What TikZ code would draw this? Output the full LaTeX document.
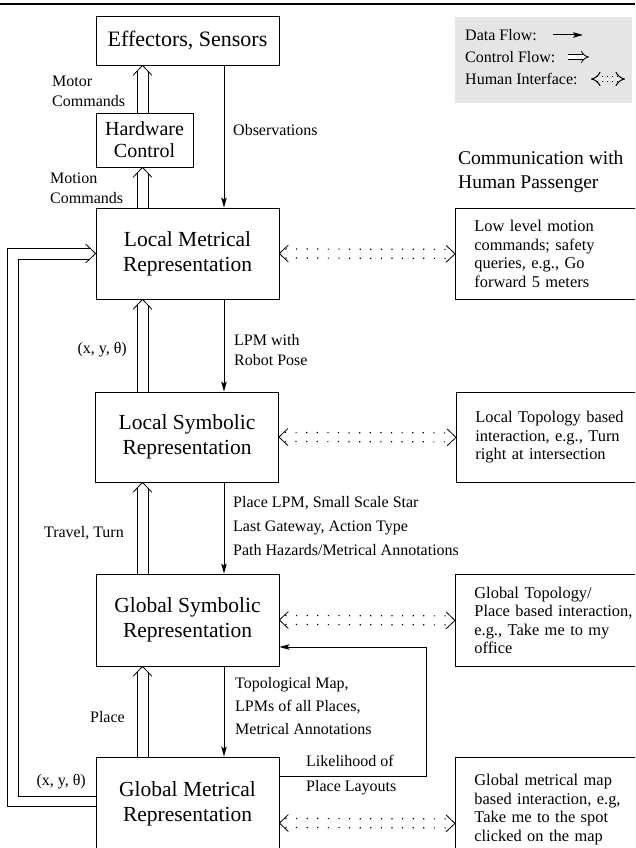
\documentclass[tikz,border=0pt]{standalone}
\usepackage{fontspec}
\setmainfont{Liberation Serif}
\usetikzlibrary{arrows.meta,positioning,calc}
\tikzset{
    repbox/.style={
        rectangle,
        draw,
        line width=0.8pt,
        minimum width=183pt,
        minimum height=91pt,
        inner sep=0pt,
        align=center,
        font={\fontsize{21.5pt}{25pt}\selectfont}
    },
    humanbox/.style={
        rectangle,
        draw,
        line width=0.8pt,
        anchor=north west,
        text width=180pt,
        inner xsep=19pt,
        inner ysep=0pt,
        minimum height=91pt,
        align=left,
        font={\fontsize{16.4pt}{18.5pt}\selectfont}
    },
    lbl/.style={inner sep=0pt, align=left, font={\fontsize{16pt}{20pt}\selectfont}},
    dataflow/.style={-{Stealth[length=10pt,width=5.5pt,inset=2pt]}, line width=1pt},
    ctrlline/.style={line width=0.8pt, line join=miter},
    hiline/.style={line width=1.2pt, dash pattern=on 1.2pt off 9.4pt},
    hihead/.style={line width=0.8pt},
    ctrlflow/.style={double, double distance=3.5pt, line width=0.8pt, -{Implies}},
    hiflow/.style={double, double distance=4pt, line width=1pt,
        dash pattern=on 1pt off 4pt, {Implies}-{Implies}},
}
% control flow: two parallel lines, open head at #2
\newcommand{\ctrllink}[2]{%
    \coordinate (ca) at (#1);
    \coordinate (cb) at (#2);
    \coordinate (cm) at ($(cb)!5.8pt!(ca)$);
    \coordinate (ck) at ($(cb)!10pt!(ca)$);
    \draw[ctrlline] ($(ca)!5.5pt!90:(cb)$) -- ($(cm)!5.5pt!-90:(ca)$);
    \draw[ctrlline] ($(ca)!5.5pt!-90:(cb)$) -- ($(cm)!5.5pt!90:(ca)$);
    \draw[ctrlline] ($(ck)!9.5pt!90:(ca)$) -- (cb) -- ($(ck)!9.5pt!-90:(ca)$);
}
% human interface: two dotted lines, open heads at both ends
\newcommand{\hilink}[2]{%
    \coordinate (ha) at (#1);
    \coordinate (hb) at (#2);
    \coordinate (hm) at ($(ha)!6pt!(hb)$);
    \coordinate (hn) at ($(hb)!6pt!(ha)$);
    \coordinate (hp) at ($(ha)!9pt!(hb)$);
    \coordinate (hq) at ($(hb)!9pt!(ha)$);
    \draw[hiline] ($(hm)!4.5pt!90:(hb)$) -- ($(hn)!4.5pt!-90:(ha)$);
    \draw[hiline] ($(hm)!4.5pt!-90:(hb)$) -- ($(hn)!4.5pt!90:(ha)$);
    \draw[hihead] ($(hp)!8.5pt!90:(hb)$) -- (ha) -- ($(hp)!8.5pt!-90:(hb)$);
    \draw[hihead] ($(hq)!8.5pt!90:(ha)$) -- (hb) -- ($(hq)!8.5pt!-90:(ha)$);
}
\begin{document}
\begin{tikzpicture}[x=1pt,y=-1pt]
\useasboundingbox (0,0) rectangle (635,848);
\clip (0,0) rectangle (635,848);
\draw[line width=1.2pt] (0,4) -- (635,4);

\coordinate (ctrlx) at (142.5,0);
\coordinate (datax) at (224,0);

\node[repbox, minimum height=49pt, font={\fontsize{22pt}{25pt}\selectfont}] (eff) at (187.5,40.5) {Effectors, Sensors};
\node[repbox, minimum width=97pt, minimum height=54pt, font={\fontsize{20pt}{22pt}\selectfont}] (hc) at (144.5,140) {Hardware\\Control};
\node[repbox] (lm) at (187.5,253.5) {Local Metrical\\Representation};
\node[repbox, minimum height=90pt] (ls) at (187,437) {Local Symbolic\\Representation};
\node[repbox, minimum height=92pt] (gs) at (187.5,620) {Global Symbolic\\Representation};
\node[repbox, minimum height=94pt] (gm) at (187.5,804) {Global Metrical\\Representation};

\node[humanbox] (hlm) at (455,208) {Low level motion\\commands; safety\\queries, e.g., Go\\forward 5 meters};
\node[humanbox, minimum height=90pt] (hls) at (456,392) {Local Topology based\\interaction, e.g., Turn\\right at intersection};
\node[humanbox, minimum height=92pt] (hgs) at (455,574) {Global Topology/\\Place based interaction,\\e.g., Take me to my\\office};
\node[humanbox, minimum height=104pt] (hgm) at (455,757) {Global metrical map\\based interaction, e.g,\\Take me to the spot\\clicked on the map};

\node[inner sep=0pt, align=left, anchor=west, font={\fontsize{19.5pt}{24pt}\selectfont}] (passenger) at (458,172) {Communication with\\Human Passenger};

\node[fill=gray!20, minimum width=177pt, minimum height=86pt] (legend) at (543.5,60) {};
\node[lbl, anchor=west] (ldata) at (465,35) {Data Flow:};
\node[lbl, anchor=west] (lctrl) at (465,57) {Control Flow:};
\node[lbl, anchor=west] (lhi) at (465,79) {Human Interface:};
\coordinate (ld1) at (553,35);
\coordinate (ld2) at (583,35);
\coordinate (lc1) at (568,57);
\coordinate (lc2) at (589,57);
\coordinate (lh1) at (591,79);
\coordinate (lh2) at (625,79);
\draw[dataflow] (ld1) -- (ld2);
\draw[ctrlflow] (lc1) -- (lc2);
\draw[hiflow] (lh1) -- (lh2);

\node[lbl, anchor=west] (motor) at (52,91.5) {Motor\\Commands};
\node[lbl, anchor=west] (motion) at (50,188) {Motion\\Commands};
\node[lbl, anchor=west] (obs) at (233,130) {Observations};
\node[lbl, anchor=west] (lpm) at (234,350.5) {LPM with\\Robot Pose};
\node[lbl, anchor=east] (pose1) at (127,350) {(x, y, θ)};
\node[lbl, anchor=west, font={\fontsize{16pt}{24pt}\selectfont}] (place) at (233,526) {Place LPM, Small Scale Star\\Last Gateway, Action Type\\Path Hazards/Metrical Annotations};
\node[lbl, anchor=east] (travel) at (124,533) {Travel, Turn};
\node[lbl, anchor=east] (placectl) at (125,717) {Place};
\node[lbl, anchor=west, font={\fontsize{16pt}{23pt}\selectfont}] (topo) at (235,706) {Topological Map,\\LPMs of all Places,\\Metrical Annotations};
\node[lbl, anchor=west, font={\fontsize{16pt}{25pt}\selectfont}] (likely) at (306,775.5) {Likelihood of\\Place Layouts};
\node[lbl, anchor=east] (pose2) at (86,782) {(x, y, θ)};

\ctrllink{hc.north -| ctrlx}{eff.south -| ctrlx}
\ctrllink{lm.north -| ctrlx}{hc.south -| ctrlx}
\ctrllink{ls.north -| ctrlx}{lm.south -| ctrlx}
\ctrllink{gs.north -| ctrlx}{ls.south -| ctrlx}
\ctrllink{gm.north -| ctrlx}{gs.south -| ctrlx}
\draw[ctrlline] ($(gm.west)+(0,2)$) -| ($(lm.west)+(-88,-5.5)$) -- ($(lm.west)+(-5.8,-5.5)$);
\draw[ctrlline] ($(gm.west)+(0,-8)$) -| ($(lm.west)+(-77,5.5)$) -- ($(lm.west)+(-5.8,5.5)$);
\draw[ctrlline] ($(lm.west)+(-10,-9.5)$) -- (lm.west) -- ($(lm.west)+(-10,9.5)$);

\draw[dataflow] (eff.south -| datax) -- (lm.north -| datax);
\draw[dataflow] (lm.south -| datax) -- (ls.north -| datax);
\draw[dataflow] (ls.south -| datax) -- (gs.north -| datax);
\draw[dataflow] (gs.south -| datax) -- (gm.north -| datax);
\draw[dataflow] ([yshift=28pt]gm.east) -- ++(147,0) |- ([yshift=-27pt]gs.east);

\hilink{lm.east}{hlm.west}
\hilink{ls.east}{hls.west}
\hilink{gs.east}{hgs.west}
\hilink{$(gm.east)+(0,19)$}{$(hgm.west)+(0,14)$}
\end{tikzpicture}
\end{document}
